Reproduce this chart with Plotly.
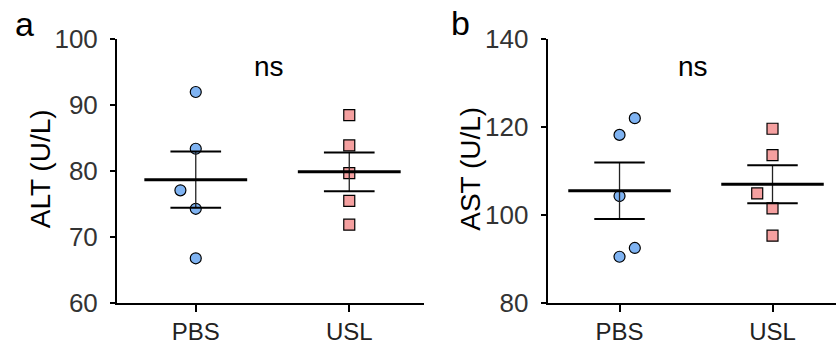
import numpy as np
import plotly.graph_objects as go

categories = ["PBS", "USL"]

alt_pbs = [91.9, 83.3, 77.0, 74.2, 66.7]
alt_usl = [88.4, 83.8, 79.6, 75.4, 71.8]
ast_pbs = [121.9, 118.1, 104.2, 92.4, 90.4]
ast_usl = [119.5, 113.5, 104.8, 101.4, 95.2]

# horizontal scatter of overlapping points (category units)
alt_pbs_jit = [0, 0, -0.1, 0, 0]
alt_usl_jit = [0, 0, 0, 0, 0]
ast_pbs_jit = [0.1, 0, 0, 0.1, 0]
ast_usl_jit = [0, 0, -0.1, 0, 0]

alt_ticks = [60, 70, 80, 90, 100]
ast_ticks = [80, 100, 120, 140]

BLUE = "#7fb3f2"
PINK = "#f5a0a0"
FONT = "Liberation Sans, Arial, sans-serif"

W, H = 836, 347


def px(x):  # screen x -> paper fraction
    return ((x - 3.5) / 0.987) / W


def py(y):  # screen y (from top) -> paper fraction
    return 1 - ((y - 8) / 0.951) / H


fig = go.Figure()


def add_panel(xa, ya, groups):
    for gi, (vals, jit, color, sym) in enumerate(groups):
        xs = [gi + j for j in jit]
        fig.add_trace(go.Scatter(
            x=xs, y=vals, mode="markers", xaxis=xa, yaxis=ya, showlegend=False,
            marker=dict(symbol=sym, size=11, color=color,
                        line=dict(color="black", width=1.2)),
            hoverinfo="skip"))
    for gi, (vals, jit, color, sym) in enumerate(groups):
        v = np.array(vals)
        m = v.mean()
        sem = v.std(ddof=1) / np.sqrt(len(v))
        fig.add_trace(go.Scatter(x=[gi, gi], y=[m - sem, m + sem], mode="lines",
                                 xaxis=xa, yaxis=ya, showlegend=False,
                                 line=dict(color="#222", width=1.3), hoverinfo="skip"))
        for yy in (m - sem, m + sem):
            fig.add_trace(go.Scatter(x=[gi - 0.165, gi + 0.165], y=[yy, yy], mode="lines",
                                     xaxis=xa, yaxis=ya, showlegend=False,
                                     line=dict(color="black", width=2), hoverinfo="skip"))
        fig.add_trace(go.Scatter(x=[gi - 0.335, gi + 0.335], y=[m, m], mode="lines",
                                 xaxis=xa, yaxis=ya, showlegend=False,
                                 line=dict(color="black", width=3), hoverinfo="skip"))


add_panel("x", "y", [(alt_pbs, alt_pbs_jit, BLUE, "circle"),
                     (alt_usl, alt_usl_jit, PINK, "square")])
add_panel("x2", "y2", [(ast_pbs, ast_pbs_jit, BLUE, "circle"),
                       (ast_usl, ast_usl_jit, PINK, "square")])

ydom = [py(307.3), py(32.5)]

xcommon = dict(showgrid=False, zeroline=False, showline=True, linecolor="black",
               linewidth=2, ticks="outside", ticklen=7, tickwidth=1.5, tickcolor="black",
               tickmode="array", tickvals=[0, 1], ticktext=categories,
               tickfont=dict(family=FONT, size=24, color="#222"))
ycommon = dict(showgrid=False, zeroline=False, showline=True, linecolor="black",
               linewidth=2, ticks="outside", ticklen=5, tickwidth=1.5, tickcolor="black",
               ticklabelstandoff=7,
               tickfont=dict(family=FONT, size=26, color="#333"))

fig.update_layout(
    width=W, height=H, margin=dict(l=0, r=0, t=0, b=0),
    paper_bgcolor="white", plot_bgcolor="white",
    xaxis=dict(domain=[px(119), px(422)], range=[-0.513, 1.487], anchor="y", **xcommon),
    yaxis=dict(domain=ydom, range=[60, 100], tickvals=alt_ticks, anchor="x", **ycommon),
    xaxis2=dict(domain=[px(544), 1.0], range=[-0.47, 1.415], anchor="y2", **xcommon),
    yaxis2=dict(domain=ydom, range=[80, 140], tickvals=ast_ticks, anchor="x2", **ycommon),
)

ann = [
    dict(text="ns", x=0.48, y=95.8, xref="x", yref="y", showarrow=False,
         xanchor="center", yanchor="middle",
         font=dict(family=FONT, size=28, color="black")),
    dict(text="ns", x=0.48, y=133.7, xref="x2", yref="y2", showarrow=False,
         xanchor="center", yanchor="middle",
         font=dict(family=FONT, size=28, color="black")),
    dict(text="ALT (U/L)", x=px(43), y=py(168.5), xref="paper", yref="paper",
         xanchor="center", yanchor="middle",
         textangle=-90, showarrow=False, font=dict(family=FONT, size=28, color="black")),
    dict(text="AST (U/L)", x=px(468), y=py(168.5), xref="paper", yref="paper",
         xanchor="center", yanchor="middle",
         textangle=-90, showarrow=False, font=dict(family=FONT, size=28, color="black")),
    dict(text="a", x=px(28), y=py(17), xref="paper", yref="paper", showarrow=False,
         xanchor="center", yanchor="middle",
         font=dict(family=FONT, size=34, color="black")),
    dict(text="b", x=px(458), y=py(16), xref="paper", yref="paper", showarrow=False,
         xanchor="center", yanchor="middle",
         font=dict(family=FONT, size=34, color="black")),
]
fig.update_layout(annotations=ann)

fig.write_html("out.html")
